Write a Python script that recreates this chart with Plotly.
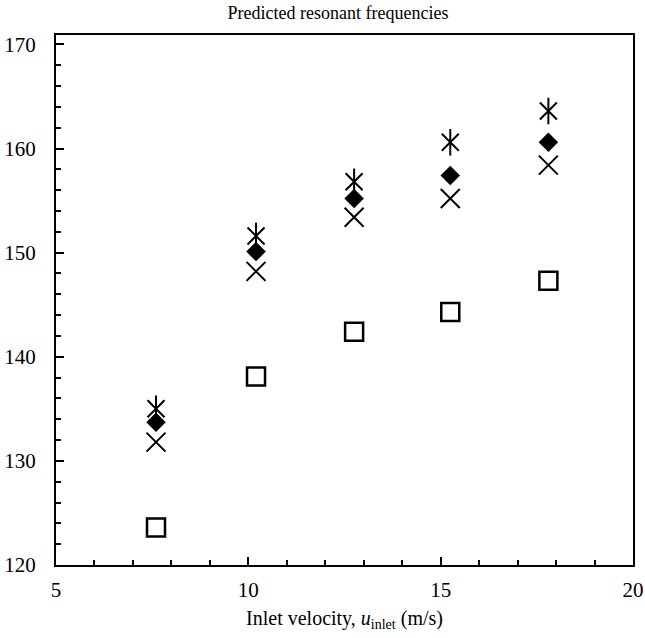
import plotly.graph_objects as go

velocity = [7.6, 10.2, 12.75, 15.25, 17.8]
freq_asterisk = [135.0, 151.6, 156.8, 160.6, 163.6]
freq_diamond = [133.7, 150.1, 155.2, 157.4, 160.6]
freq_cross = [131.8, 148.2, 153.4, 155.2, 158.4]
freq_square = [123.6, 138.1, 142.4, 144.3, 147.3]

fig = go.Figure()
fig.add_trace(go.Scatter(x=velocity, y=freq_square, mode="markers",
                         marker=dict(symbol="square-open", size=18, color="black",
                                     line=dict(width=2.5, color="black"))))
fig.add_trace(go.Scatter(x=velocity, y=freq_cross, mode="markers",
                         marker=dict(symbol="x-thin-open", size=19, color="black",
                                     line=dict(width=2, color="black"))))
fig.add_trace(go.Scatter(x=velocity, y=freq_diamond, mode="markers",
                         marker=dict(symbol="diamond", size=15, color="black",
                                     line=dict(width=0))))
fig.add_trace(go.Scatter(x=velocity, y=freq_asterisk, mode="markers",
                         marker=dict(symbol="x-thin-open", size=17, color="black",
                                     line=dict(width=2, color="black"))))
fig.add_trace(go.Scatter(x=velocity, y=freq_asterisk, mode="markers",
                         marker=dict(symbol="line-ns-open", size=19, color="black",
                                     line=dict(width=2, color="black"))))

font_family = "Liberation Serif"
fig.update_layout(
    width=645, height=638,
    margin=dict(l=56, r=12, t=35, b=73),
    paper_bgcolor="white", plot_bgcolor="white",
    showlegend=False,
    font=dict(family=font_family, color="black", size=21),
    title=dict(text="Predicted resonant frequencies", x=0.524, xanchor="center",
               y=1 - 13 / 638, yanchor="middle",
               font=dict(family=font_family, size=18, color="black")),
)
fig.update_xaxes(
    range=[5, 20], tickvals=[5, 10, 15, 20], ticks="inside", ticklen=8, tickwidth=1.5,
    tickcolor="black", showline=True, linecolor="black", linewidth=2, mirror=True,
    showgrid=False, zeroline=False, automargin=False,
    minor=dict(dtick=1, ticks="inside", ticklen=5, tickwidth=1.5, tickcolor="black"),
    tickfont=dict(size=21), ticklabelstandoff=5,
    title=dict(text="Inlet velocity, <i>u</i><sub>inlet</sub> (m/s)", font=dict(size=20), standoff=10),
)
fig.update_yaxes(
    range=[120, 170.9], tickvals=[120, 130, 140, 150, 160, 170], ticks="inside",
    ticklen=8, tickwidth=1.5, tickcolor="black", showline=True, linecolor="black",
    linewidth=2, mirror=True, showgrid=False, zeroline=False, automargin=False,
    minor=dict(dtick=2, ticks="inside", ticklen=5, tickwidth=1.5, tickcolor="black"),
    tickfont=dict(size=21), ticklabelstandoff=14,
)

fig.write_html("out.html")
